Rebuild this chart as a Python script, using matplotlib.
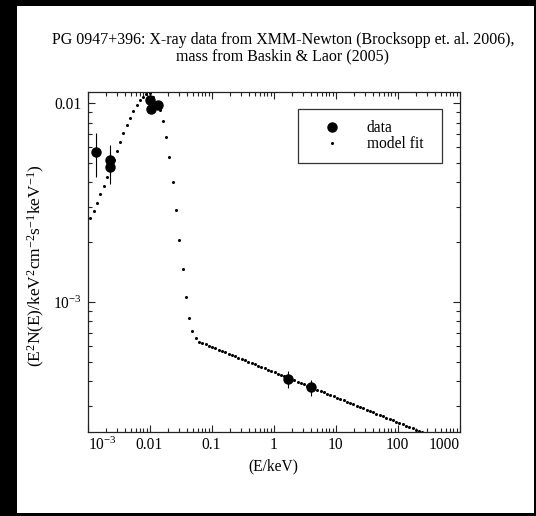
import matplotlib
matplotlib.use("Agg")
import matplotlib.pyplot as plt
from matplotlib.patches import Rectangle
from matplotlib.lines import Line2D
from matplotlib.ticker import LogLocator, FixedLocator, NullFormatter

plt.rcParams['font.family'] = ['Liberation Serif', 'DejaVu Serif']
plt.rcParams['mathtext.fontset'] = 'custom'
plt.rcParams['mathtext.rm'] = 'Liberation Serif'
plt.rcParams['mathtext.it'] = 'Liberation Serif:italic'
plt.rcParams['mathtext.bf'] = 'Liberation Serif:bold'

FS = 11.2

# ---- data (keV, keV^2 cm^-2 s^-1 keV^-1) ----
data_E = [1.39e-3, 2.28e-3, 2.34e-3, 0.0103, 0.0105, 0.0138, 1.70, 3.98]
data_F = [5.69e-3, 5.19e-3, 4.76e-3, 1.039e-2, 9.39e-3, 9.80e-3, 4.10e-4, 3.75e-4]
data_F_lo = [4.28e-3, 4.36e-3, 3.91e-3, 9.92e-3, 9.00e-3, 9.40e-3, 3.68e-4, 3.37e-4]
data_F_hi = [7.11e-3, 6.17e-3, 5.69e-3, 1.092e-2, 9.80e-3, 1.02e-2, 4.51e-4, 4.05e-4]

model_E = [
    1.09e-3, 1.26e-3, 1.43e-3, 1.62e-3, 1.83e-3, 2.07e-3, 2.34e-3, 2.64e-3, 2.98e-3, 3.36e-3,
    3.79e-3, 4.28e-3, 4.84e-3, 5.47e-3, 6.18e-3, 6.98e-3, 7.89e-3, 8.91e-3, 1.007e-2, 1.14e-2,
    1.29e-2, 1.45e-2, 1.64e-2, 1.85e-2, 2.09e-2, 2.37e-2, 2.67e-2, 3.02e-2, 3.41e-2, 3.85e-2,
    4.35e-2, 4.92e-2, 5.56e-2, 6.28e-2,
    0.0710, 0.0802, 0.0906, 0.1023, 0.1156, 0.1306, 0.1476, 0.1667, 0.1884, 0.2128,
    0.2404, 0.2716, 0.3069, 0.3467, 0.3917, 0.4426, 0.5000, 0.5649, 0.6383, 0.7211,
    0.8147, 0.9204, 1.040, 1.175, 1.327, 1.500, 1.694, 1.914, 2.163, 2.443,
    2.761, 3.119, 3.524, 3.981, 4.498, 5.082, 5.741, 6.486, 7.328, 8.279,
    9.354, 10.57, 11.94, 13.49, 15.24, 17.22, 19.45, 21.98, 24.83, 28.05,
    31.70, 35.81, 40.46, 45.71, 51.64, 58.34, 65.92, 74.47, 84.14, 95.06,
    107.4, 121.3, 137.1, 154.9, 175.0, 197.7, 223.4, 252.4, 285.1,
]
model_F = [
    2.66e-3, 2.88e-3, 3.16e-3, 3.48e-3, 3.85e-3, 4.24e-3, 4.70e-3, 5.18e-3, 5.77e-3, 6.41e-3,
    7.06e-3, 7.75e-3, 8.43e-3, 9.15e-3, 9.80e-3, 1.035e-2, 1.076e-2, 1.114e-2, 1.126e-2, 1.076e-2,
    9.98e-3, 9.25e-3, 8.10e-3, 6.73e-3, 5.37e-3, 4.04e-3, 2.90e-3, 2.06e-3, 1.466e-3, 1.06e-3,
    8.31e-4, 7.15e-4, 6.59e-4, 6.32e-4,
    6.228e-4, 6.132e-4, 6.038e-4, 5.945e-4, 5.854e-4, 5.764e-4, 5.675e-4, 5.588e-4, 5.502e-4, 5.417e-4,
    5.334e-4, 5.252e-4, 5.171e-4, 5.092e-4, 5.013e-4, 4.936e-4, 4.860e-4, 4.786e-4, 4.712e-4, 4.640e-4,
    4.568e-4, 4.498e-4, 4.429e-4, 4.361e-4, 4.294e-4, 4.228e-4, 4.163e-4, 4.099e-4, 4.036e-4, 3.974e-4,
    3.912e-4, 3.852e-4, 3.793e-4, 3.735e-4, 3.677e-4, 3.621e-4, 3.565e-4, 3.510e-4, 3.456e-4, 3.403e-4,
    3.351e-4, 3.299e-4, 3.249e-4, 3.199e-4, 3.150e-4, 3.101e-4, 3.054e-4, 3.007e-4, 2.960e-4, 2.915e-4,
    2.870e-4, 2.826e-4, 2.783e-4, 2.740e-4, 2.698e-4, 2.656e-4, 2.616e-4, 2.575e-4, 2.536e-4, 2.497e-4,
    2.458e-4, 2.421e-4, 2.383e-4, 2.347e-4, 2.311e-4, 2.275e-4, 2.240e-4, 2.206e-4, 2.172e-4,
]

x_ticks = [1e-3, 1e-2, 1e-1, 1, 10, 100, 1000]
x_ticklabels = [r'$\mathregular{10^{-3}}$', '0.01', '0.1', '1', '10', '100', '1000']
y_ticks = [1e-3, 1e-2]
y_ticklabels = [r'$\mathregular{10^{-3}}$', '0.01']

title = "PG 0947+396: X-ray data from XMM-Newton (Brocksopp et. al. 2006),\nmass from Baskin & Laor (2005)"

W, H = 536, 516
fig = plt.figure(figsize=(W / 100, H / 100), dpi=100)
fig.patch.set_facecolor('black')
fig.add_artist(Rectangle((17 / W, 3 / H), 517 / W, 507 / H, transform=fig.transFigure,
                         facecolor='white', edgecolor='none', zorder=-10))

ax = fig.add_axes([87.5 / W, (H - 432) / H, 372 / W, 340 / H])
ax.set_xscale('log')
ax.set_yscale('log')
ax.set_xlim(1e-3, 1e3)
ax.set_ylim(2.216e-4, 1.14e-2)

ax.plot(model_E, model_F, linestyle='none', marker='o', markersize=2.2,
        color='black', markeredgewidth=0, zorder=2)
yerr_lo = [f - lo for f, lo in zip(data_F, data_F_lo)]
yerr_hi = [hi - f for f, hi in zip(data_F, data_F_hi)]
ax.errorbar(data_E, data_F, yerr=[yerr_lo, yerr_hi], fmt='o', markersize=6.5,
            color='black', ecolor='black', elinewidth=0.8, capsize=0, zorder=3)

ax.xaxis.set_major_locator(FixedLocator(x_ticks))
ax.set_xticklabels(x_ticklabels)
ax.xaxis.set_minor_locator(LogLocator(base=10, subs=range(2, 10), numticks=100))
ax.xaxis.set_minor_formatter(NullFormatter())
ax.yaxis.set_major_locator(FixedLocator(y_ticks))
ax.set_yticklabels(y_ticklabels)
ax.yaxis.set_minor_locator(LogLocator(base=10, subs=range(2, 10), numticks=100))
ax.yaxis.set_minor_formatter(NullFormatter())

ax.tick_params(which='both', direction='in', top=True, right=True, width=0.8, color='#222222')
ax.tick_params(which='major', length=5)
ax.tick_params(which='minor', length=2.6)
ax.tick_params(axis='x', which='major', pad=3.5, labelsize=FS)
ax.tick_params(axis='y', which='major', pad=4, labelsize=FS)
xl = ax.get_xticklabels()
xl[0].set_ha('left')
xl[-1].set_ha('right')
for s in ax.spines.values():
    s.set_linewidth(0.9)
    s.set_color('#222222')

fig.text(283 / W, 1 - 48 / H, title, ha='center', va='center', fontsize=11.5,
         multialignment='center', linespacing=1.0)
fig.text(273.5 / W, 1 - 466 / H, '(E/keV)', ha='center', va='center', fontsize=FS)
fig.text(36 / W, 1 - 266 / H,
         r'$\mathregular{(E^2N(E)/keV^2cm^{-2}s^{-1}keV^{-1})}$',
         rotation=90, ha='center', va='center', fontsize=12.5)

handles = [Line2D([], [], linestyle='none', marker='o', markersize=6.5, color='black'),
           Line2D([], [], linestyle='none', marker='o', markersize=2.2, color='black',
                  markeredgewidth=0)]
x0 = (298.3 - 87.5) / 372
x1 = (441.7 - 87.5) / 372
ytop = 1 - (109.3 - 92) / 340
leg = ax.legend(handles, ['data', 'model fit'], loc='upper left',
                bbox_to_anchor=(x0, ytop - 0.2, x1 - x0, 0.2), mode='expand',
                fontsize=FS, frameon=True, fancybox=False, framealpha=1,
                edgecolor='#333333', borderpad=0.7, labelspacing=0.0,
                handlelength=2.9, handletextpad=0.8, borderaxespad=0)
leg.get_frame().set_linewidth(0.9)

fig.savefig('out.png', dpi=100, facecolor=fig.get_facecolor())
